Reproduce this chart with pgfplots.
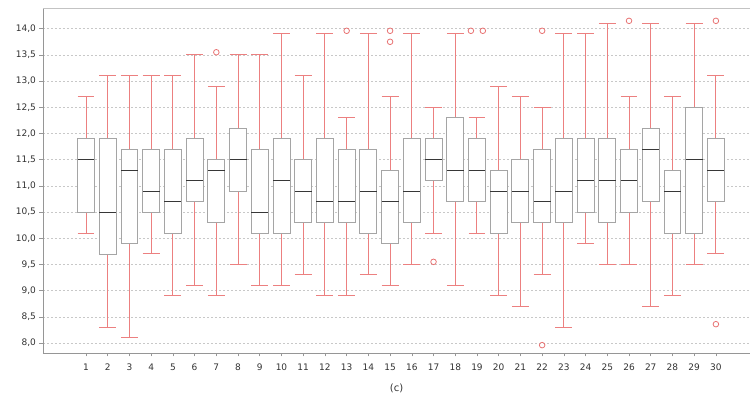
\documentclass[border=0pt]{standalone}
\usepackage{fontspec}
\setmainfont{DejaVu Sans}
\usepackage{pgfplots}
\pgfplotsset{compat=1.18}
\usepgfplotslibrary{statistics}
\definecolor{boxgray}{RGB}{165,165,165}
\definecolor{medgray}{RGB}{55,55,55}
\definecolor{whisk}{RGB}{236,128,128}
\definecolor{outred}{RGB}{232,115,115}
\definecolor{axgray}{RGB}{150,150,150}
\definecolor{topgray}{RGB}{195,195,195}
\definecolor{gridgray}{RGB}{200,200,200}
\definecolor{txt}{RGB}{50,50,50}
\newcommand\bx[6]{\addplot[draw=whisk, boxplot prepared={draw position=#1, lower whisker=#2, lower quartile=#3, median=#4, upper quartile=#5, upper whisker=#6}] coordinates {};}
\begin{document}
\begin{tikzpicture}
\begin{axis}[name=ax, scale only axis, width=707pt, height=345pt,
  xmin=-0.98, xmax=31.57, ymin=7.81, ymax=14.395,
  axis x line*=bottom, axis y line*=left,
  axis line style={axgray, line width=0.8pt},
  xtick={1,...,30},
  ytick={8,8.5,9,9.5,10,10.5,11,11.5,12,12.5,13,13.5,14},
  tick align=outside, major tick length=3.5pt,
  tick style={axgray, line width=0.6pt},
  ymajorgrids, grid style={gridgray, dash pattern=on 2pt off 2pt, line width=0.6pt},
  /pgf/number format/assume math mode=true,
  yticklabel style={/pgf/number format/fixed, /pgf/number format/fixed zerofill, /pgf/number format/precision=1, /pgf/number format/use comma},
  ticklabel style={font=\fontsize{9}{10}\selectfont, text=txt},
  xticklabel style={yshift=-4pt},
  xlabel={(c)}, xlabel style={font=\fontsize{10}{11}\selectfont, text=txt, yshift=-6pt},
  boxplot/draw direction=y,
  boxplot/box extend=0.78, boxplot/whisker extend=0.78,
  boxplot/every box/.style={draw=boxgray, fill=white, line width=0.9pt},
  boxplot/every whisker/.style={draw=whisk, line width=1pt},
  boxplot/every median/.style={draw=medgray, line width=0.9pt},
]
\draw[topgray, line width=0.8pt] (rel axis cs:0,1) -- (rel axis cs:1,1);
\bx{1}{10.1}{10.5}{11.5}{11.9}{12.7}
\bx{2}{8.3}{9.7}{10.5}{11.9}{13.1}
\bx{3}{8.1}{9.9}{11.3}{11.7}{13.1}
\bx{4}{9.7}{10.5}{10.9}{11.7}{13.1}
\bx{5}{8.9}{10.1}{10.7}{11.7}{13.1}
\bx{6}{9.1}{10.7}{11.1}{11.9}{13.5}
\bx{7}{8.9}{10.3}{11.3}{11.5}{12.9}
\bx{8}{9.5}{10.9}{11.5}{12.1}{13.5}
\bx{9}{9.1}{10.1}{10.5}{11.7}{13.5}
\bx{10}{9.1}{10.1}{11.1}{11.9}{13.9}
\bx{11}{9.3}{10.3}{10.9}{11.5}{13.1}
\bx{12}{8.9}{10.3}{10.7}{11.9}{13.9}
\bx{13}{8.9}{10.3}{10.7}{11.7}{12.3}
\bx{14}{9.3}{10.1}{10.9}{11.7}{13.9}
\bx{15}{9.1}{9.9}{10.7}{11.3}{12.7}
\bx{16}{9.5}{10.3}{10.9}{11.9}{13.9}
\bx{17}{10.1}{11.1}{11.5}{11.9}{12.5}
\bx{18}{9.1}{10.7}{11.3}{12.3}{13.9}
\bx{19}{10.1}{10.7}{11.3}{11.9}{12.3}
\bx{20}{8.9}{10.1}{10.9}{11.3}{12.9}
\bx{21}{8.7}{10.3}{10.9}{11.5}{12.7}
\bx{22}{9.3}{10.3}{10.7}{11.7}{12.5}
\bx{23}{8.3}{10.3}{10.9}{11.9}{13.9}
\bx{24}{9.9}{10.5}{11.1}{11.9}{13.9}
\bx{25}{9.5}{10.3}{11.1}{11.9}{14.1}
\bx{26}{9.5}{10.5}{11.1}{11.7}{12.7}
\bx{27}{8.7}{10.7}{11.7}{12.1}{14.1}
\bx{28}{8.9}{10.1}{10.9}{11.3}{12.7}
\bx{29}{9.5}{10.1}{11.5}{12.5}{14.1}
\bx{30}{9.7}{10.7}{11.3}{11.9}{13.1}
\addplot[only marks, mark=o, mark size=2.8pt, draw=outred, mark options={line width=0.8pt}] coordinates {
(7,13.55) (13,13.96) (15,13.96) (15,13.75) (17,9.55) (18.72,13.96) (19.27,13.96)
(22,13.96) (22,7.96) (26,14.15) (30,14.15) (30,8.36)};
\end{axis}
\pgfresetboundingbox
\useasboundingbox ([shift={(-43pt,-45pt)}]ax.south west) rectangle ([shift={(0pt,8pt)}]ax.north east);
\end{tikzpicture}
\end{document}
